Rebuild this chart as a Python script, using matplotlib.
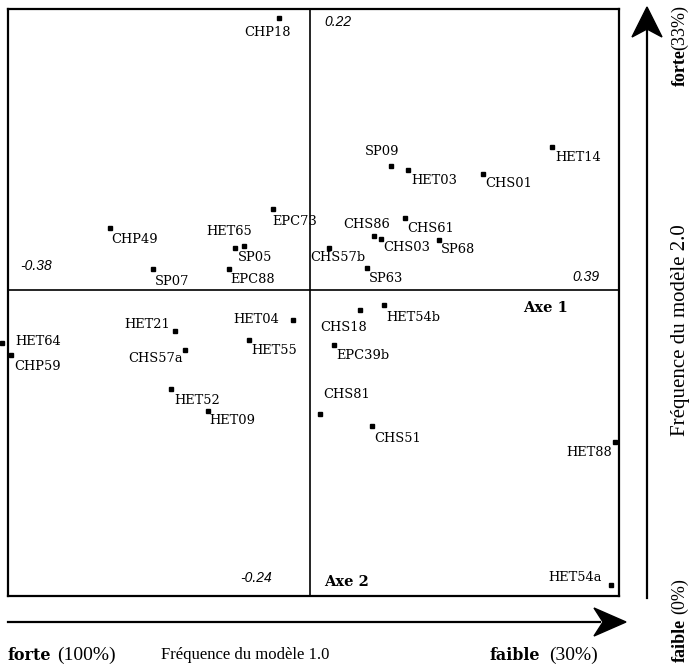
import matplotlib
matplotlib.use("Agg")
import matplotlib.pyplot as plt
from matplotlib.patches import Polygon
from matplotlib.lines import Line2D

# ---- data (coordinates on the two factorial axes) ----
labels = ["CHP18", "EPC73", "CHP49", "HET65", "SP05", "SP07", "EPC88",
          "SP09", "HET03", "CHS01", "HET14", "CHS86", "CHS03", "CHS61",
          "SP68", "CHS57b", "SP63",
          "HET21", "HET64", "CHP59", "CHS57a", "HET04", "HET55", "HET52",
          "HET09", "CHS18", "HET54b", "EPC39b", "CHS81", "CHS51", "HET88",
          "HET54a"]
axe1 = [-0.039, -0.046, -0.252, -0.083, -0.094, -0.197, -0.102,
        0.103, 0.124, 0.219, 0.306, 0.081, 0.090, 0.120,
        0.163, 0.025, 0.072,
        -0.170, -0.388, -0.376, -0.157, -0.021, -0.076, -0.175,
        -0.128, 0.064, 0.094, 0.031, 0.013, 0.079, 0.385,
        0.380]
axe2 = [0.213, 0.063, 0.048, 0.034, 0.033, 0.016, 0.016,
        0.097, 0.094, 0.091, 0.112, 0.042, 0.040, 0.056,
        0.039, 0.033, 0.017,
        -0.032, -0.042, -0.051, -0.047, -0.024, -0.039, -0.078,
        -0.095, -0.016, -0.012, -0.043, -0.097, -0.107, -0.119,
        -0.231]
x_range = [-0.38, 0.39]
y_range = [-0.24, 0.22]

# label offsets in pixels (dx right, dy down) -- layout only
offsets = {
    "CHP18": (-34, 15), "EPC73": (-1, 12), "CHP49": (2, 11), "HET65": (-37, -15),
    "SP05": (3, 10), "SP07": (2, 12), "EPC88": (2, 10), "SP09": (-26, -14),
    "HET03": (3, 11), "CHS01": (2, 10), "HET14": (3, 11), "CHS86": (-31, -12),
    "CHS03": (2, 9), "CHS61": (2, 10), "SP68": (2, 10), "CHS57b": (-19, 10),
    "SP63": (2, 10), "HET21": (-50, -6), "HET64": (14, -2), "CHP59": (3, 12),
    "CHS57a": (-57, 9), "HET04": (-60, -1), "HET55": (2, 11), "HET52": (4, 11),
    "HET09": (1, 10), "CHS18": (-40, 17), "HET54b": (2, 12), "EPC39b": (2, 11),
    "CHS81": (3, -19), "CHS51": (2, 12), "HET88": (-49, 11), "HET54a": (-63, -7),
}

W, H = 691, 668
fig = plt.figure(figsize=(W / 100, H / 100), dpi=100)
fig.patch.set_facecolor("white")

def fx(p):
    return p / W

def fy(p):
    return 1 - p / H

L, T, R, B = 8, 9, 619, 596
ax = fig.add_axes([fx(L), fy(B), (R - L) / W, (B - T) / H])
ax.set_xlim(*x_range)
ax.set_ylim(*y_range)
ax.set_xticks([])
ax.set_yticks([])
for s in ax.spines.values():
    s.set_linewidth(1.6)
    s.set_color("black")
ax.axvline(0, color="black", lw=1.2)
ax.axhline(0, color="black", lw=1.2)

ax.plot(axe1, axe2, linestyle="none", marker="s", markersize=2.8,
        color="black", clip_on=False)

lab_font = dict(family="DejaVu Serif", fontsize=9.4, color="black")
for lab, x, y in zip(labels, axe1, axe2):
    dx, dy = offsets[lab]
    ax.annotate(lab, (x, y), xytext=(dx * 0.72, -dy * 0.72),
                textcoords="offset points", ha="left", va="center",
                annotation_clip=False, **lab_font)

# range values (italic)
num_font = dict(family="Liberation Sans", style="italic", fontsize=10, color="black")
fig.text(fx(20), fy(266), "-0.38", ha="left", va="center", **num_font)
fig.text(fx(324), fy(22), "0.22", ha="left", va="center", **num_font)
fig.text(fx(600), fy(277), "0.39", ha="right", va="center", **num_font)
fig.text(fx(240), fy(578), "-0.24", ha="left", va="center", **num_font)

axe_font = dict(family="DejaVu Serif", weight="bold", fontsize=10.5, color="black")
fig.text(fx(523), fy(308), "Axe 1", ha="left", va="center", **axe_font)
fig.text(fx(324), fy(582), "Axe 2", ha="left", va="center", **axe_font)

# arrows
fig.add_artist(Line2D([fx(8), fx(600)], [fy(622), fy(622)], color="black", lw=1.6))
fig.add_artist(Polygon([(fx(626), fy(622)), (fx(594), fy(608)), (fx(603), fy(622)),
                        (fx(594), fy(636))], closed=True, color="black"))
fig.add_artist(Line2D([fx(647), fx(647)], [fy(598), fy(30)], color="black", lw=1.6))
fig.add_artist(Polygon([(fx(647), fy(7)), (fx(632), fy(37)), (fx(647), fy(29)),
                        (fx(662), fy(37))], closed=True, color="black"))

# bottom axis caption
bold = dict(family="DejaVu Serif", weight="bold", fontsize=11.5, color="black")
reg = dict(family="Liberation Serif", fontsize=14, color="black")
cap = dict(family="Liberation Serif", fontsize=12, color="black")
fig.text(fx(8), fy(655), "forte", ha="left", va="center", **bold)
fig.text(fx(57), fy(655), "(100%)", ha="left", va="center", **reg)
fig.text(fx(245), fy(655), "Fréquence du modèle 1.0", ha="center", va="center", **cap)
fig.text(fx(490), fy(655), "faible", ha="left", va="center", **bold)
fig.text(fx(549), fy(655), "(30%)", ha="left", va="center", **reg)

# right axis caption (vertical, read bottom to top)
vbold = dict(family="Liberation Serif", weight="bold", fontsize=13, color="black",
             rotation=90)
vreg = dict(family="Liberation Serif", fontsize=13, color="black", rotation=90)
vcap = dict(family="Liberation Serif", fontsize=15, color="black", rotation=90)
fig.text(fx(680), fy(86), "forte", ha="center", va="bottom", **vbold)
fig.text(fx(680), fy(5), "(33%)", ha="center", va="top", **vreg)
fig.text(fx(680), fy(330), "Fréquence du modèle 2.0", ha="center", va="center", **vcap)
fig.text(fx(680), fy(662), "faible", ha="center", va="bottom", **vbold)
fig.text(fx(680), fy(578), "(0%)", ha="center", va="top", **vreg)

fig.savefig("out.png", dpi=100, facecolor="white")
